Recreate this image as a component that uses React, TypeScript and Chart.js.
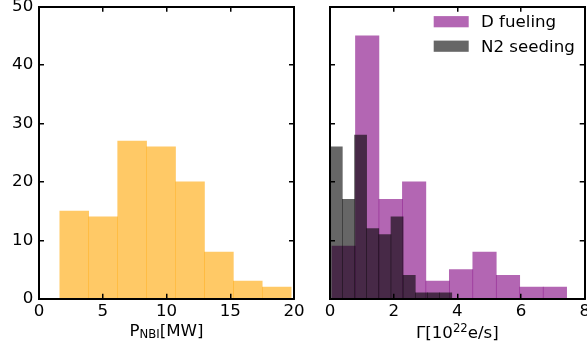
import React, { useEffect, useRef } from 'react';
import { Chart, registerables } from 'chart.js';

Chart.register(...registerables);

const FONT_FAMILY = "'DejaVu Sans', 'Liberation Sans', sans-serif";
const FS = 16.67;

// ---- Data ----
// Left panel: P_NBI histogram (bin edges in MW, counts)
const nbiEdges = [1.63, 3.9, 6.17, 8.44, 10.71, 12.98, 15.24, 17.51, 19.78];
const nbiCounts = [15, 14, 27, 26, 20, 8, 3, 2];

// Right panel: Gamma histograms (bin edges in 1e22 e/s, counts)
const dFuelEdges = [0.063, 0.8, 1.537, 2.274, 3.011, 3.748, 4.485, 5.222, 5.959, 6.696, 7.433];
const dFuelCounts = [9, 45, 17, 20, 3, 5, 8, 4, 2, 2];
const n2Edges = [0.005, 0.387, 0.769, 1.151, 1.533, 1.915, 2.297, 2.679, 3.061, 3.443, 3.825];
const n2Counts = [26, 17, 28, 12, 11, 14, 4, 1, 1, 1];

const leftXTicks = [0, 5, 10, 15, 20];
const rightXTicks = [0, 2, 4, 6, 8];
const yTicks = [0, 10, 20, 30, 40, 50];

const seriesLabels = ['D fueling', 'N2 seeding'];

const ORANGE = 'rgba(255,165,0,0.6)';
const PURPLE = 'rgba(128,0,128,0.6)';
const GRAY = 'rgba(0,0,0,0.6)';

type Seg = { text: string; small?: boolean; shift?: number };
const nbiTitle: Seg[] = [{ text: 'P' }, { text: 'NBI', small: true, shift: 2 }, { text: '[MW]' }];
const gammaTitle: Seg[] = [{ text: 'Γ[10' }, { text: '22', small: true, shift: -6.5 }, { text: 'e/s]' }];

function toBars(edges: number[], counts: number[]) {
  return counts.map((c, i) => ({ x: (edges[i] + edges[i + 1]) / 2, y: c }));
}

function titlePlugin(id: string, segs: Seg[], baselineBelow: number) {
  return {
    id,
    afterDraw(chart: any) {
      const { ctx, chartArea } = chart;
      ctx.save();
      const fontFor = (s: Seg) => `${s.small ? FS * 0.7 : FS}px ${FONT_FAMILY}`;
      let total = 0;
      const widths = segs.map((s) => {
        ctx.font = fontFor(s);
        const w = ctx.measureText(s.text).width;
        total += w;
        return w;
      });
      let x = (chartArea.left + chartArea.right) / 2 - total / 2;
      const y = chartArea.bottom + baselineBelow;
      ctx.fillStyle = '#000';
      ctx.textBaseline = 'alphabetic';
      ctx.textAlign = 'left';
      segs.forEach((s, i) => {
        ctx.font = fontFor(s);
        ctx.fillText(s.text, x, y + (s.shift || 0));
        x += widths[i];
      });
      ctx.restore();
    },
  };
}

const legendPlugin = {
  id: 'histLegend',
  afterDraw(chart: any) {
    const { ctx, chartArea } = chart;
    ctx.save();
    ctx.font = `${FS}px ${FONT_FAMILY}`;
    ctx.textBaseline = 'alphabetic';
    ctx.textAlign = 'left';
    chart.data.datasets.forEach((ds: any, i: number) => {
      const base = chartArea.top + 20.6 + i * 24.5;
      const bx = chartArea.right - 151;
      ctx.fillStyle = ds.backgroundColor;
      ctx.fillRect(bx, base - 11.2, 35, 11.2);
      ctx.fillStyle = '#000';
      ctx.fillText(ds.label, chartArea.right - 103.7, base);
    });
    ctx.restore();
  },
};

function frameAxis(
  position: string,
  min: number,
  max: number,
  tickValues: number[],
  o: { labels: boolean; size: number; padding?: number }
) {
  const horizontal = position === 'top' || position === 'bottom';
  return {
    type: 'linear',
    position,
    min,
    max,
    offset: false,
    afterBuildTicks: (axis: any) => {
      axis.ticks = tickValues.map((v) => ({ value: v }));
    },
    afterFit: (axis: any) => {
      if (horizontal) axis.height = o.size;
      else axis.width = o.size;
      axis.paddingLeft = 0;
      axis.paddingRight = 0;
      axis.paddingTop = 0;
      axis.paddingBottom = 0;
    },
    grid: {
      display: true,
      drawOnChartArea: false,
      drawTicks: true,
      tickLength: -5,
      color: '#000',
      tickColor: '#000',
      lineWidth: 1.5,
      tickWidth: 1.5,
      offset: false,
      z: 1,
    },
    border: { display: true, color: '#000', width: 2, z: 1 },
    ticks: {
      display: o.labels,
      color: '#000',
      font: { family: FONT_FAMILY, size: FS },
      padding: o.padding ?? 0,
      autoSkip: false,
      maxRotation: 0,
      minRotation: 0,
      z: 1,
    },
  };
}

function hiddenAxis(min: number, max: number) {
  return {
    type: 'linear',
    position: 'bottom',
    display: false,
    min,
    max,
    offset: false,
    afterFit: (axis: any) => {
      axis.height = 0;
      axis.paddingLeft = 0;
      axis.paddingRight = 0;
    },
  };
}

const barCommon = {
  borderWidth: 0,
  barPercentage: 1,
  categoryPercentage: 1,
  grouped: false,
};

export default function App() {
  const leftRef = useRef<HTMLCanvasElement>(null);
  const rightRef = useRef<HTMLCanvasElement>(null);

  useEffect(() => {
    const left = new Chart(leftRef.current as HTMLCanvasElement, {
      type: 'bar',
      data: {
        datasets: [
          {
            label: 'P_NBI',
            data: toBars(nbiEdges, nbiCounts),
            backgroundColor: ORANGE,
            xAxisID: 'x',
            yAxisID: 'y',
            ...barCommon,
          } as any,
        ],
      },
      options: {
        responsive: false,
        maintainAspectRatio: false,
        animation: false,
        devicePixelRatio: 1,
        layout: { padding: { left: 0, top: 6.7, right: 18, bottom: 0 } },
        plugins: { legend: { display: false }, tooltip: { enabled: false } },
        scales: {
          x: frameAxis('bottom', 0, 20, leftXTicks, { labels: true, size: 50.3, padding: 7.5 }),
          x2: frameAxis('top', 0, 20, leftXTicks, { labels: false, size: 0 }),
          y: frameAxis('left', 0, 50, yTicks, { labels: true, size: 39, padding: 10.7 }),
          y2: frameAxis('right', 0, 50, yTicks, { labels: false, size: 0 }),
        } as any,
      },
      plugins: [titlePlugin('nbiTitle', nbiTitle, 37)],
    });

    const right = new Chart(rightRef.current as HTMLCanvasElement, {
      type: 'bar',
      data: {
        datasets: [
          {
            label: seriesLabels[0],
            data: toBars(dFuelEdges, dFuelCounts),
            backgroundColor: PURPLE,
            xAxisID: 'x',
            yAxisID: 'y',
            order: 1,
            ...barCommon,
          } as any,
          {
            label: seriesLabels[1],
            data: toBars(n2Edges, n2Counts),
            backgroundColor: GRAY,
            xAxisID: 'xn',
            yAxisID: 'y',
            order: 0,
            ...barCommon,
          } as any,
        ],
      },
      options: {
        responsive: false,
        maintainAspectRatio: false,
        animation: false,
        devicePixelRatio: 1,
        layout: { padding: { left: 30, top: 6.7, right: 2.3, bottom: 0 } },
        plugins: { legend: { display: false }, tooltip: { enabled: false } },
        scales: {
          x: frameAxis('bottom', 0, 8, rightXTicks, { labels: true, size: 50.3, padding: 7.5 }),
          xn: hiddenAxis(0, 8),
          x2: frameAxis('top', 0, 8, rightXTicks, { labels: false, size: 0 }),
          y: frameAxis('left', 0, 50, yTicks, { labels: false, size: 0 }),
          y2: frameAxis('right', 0, 50, yTicks, { labels: false, size: 0 }),
        } as any,
      },
      plugins: [titlePlugin('gammaTitle', gammaTitle, 39.5), legendPlugin],
    });

    return () => {
      left.destroy();
      right.destroy();
    };
  }, []);

  return (
    <div
      style={{
        position: 'fixed',
        left: 0,
        top: 0,
        width: 587,
        height: 349,
        overflow: 'hidden',
        background: '#fff',
      }}
    >
      <canvas
        ref={leftRef}
        width={312}
        height={349}
        style={{ position: 'absolute', left: 0, top: 0, width: 312, height: 349 }}
      />
      <canvas
        ref={rightRef}
        width={287}
        height={349}
        style={{ position: 'absolute', left: 300, top: 0, width: 287, height: 349 }}
      />
    </div>
  );
}
